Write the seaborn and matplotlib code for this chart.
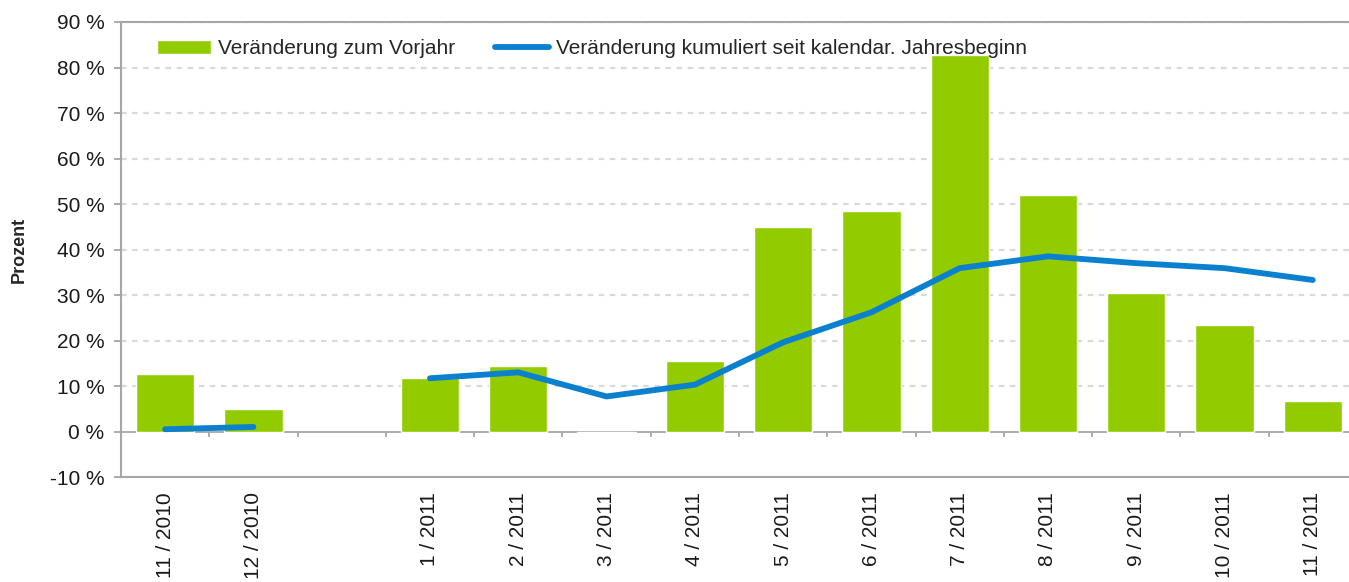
import numpy as np
import pandas as pd
import matplotlib
matplotlib.use("Agg")
import matplotlib.pyplot as plt
import seaborn as sns

# ── Data ──────────────────────────────────────────────────────
months = ["11 / 2010", "12 / 2010", "", "1 / 2011", "2 / 2011", "3 / 2011",
          "4 / 2011", "5 / 2011", "6 / 2011", "7 / 2011", "8 / 2011",
          "9 / 2011", "10 / 2011", "11 / 2011"]
yoy_change = [12.6, 4.9, np.nan, 11.7, 14.3, -0.4, 15.4, 44.9, 48.5, 82.8,
              52.0, 30.4, 23.3, 6.6]
cum_change = [0.5, 1.0, np.nan, 11.7, 13.0, 7.7, 10.3, 19.6, 26.2, 35.9,
              38.5, 37.0, 35.9, 33.3]
y_ticks = [-10, 0, 10, 20, 30, 40, 50, 60, 70, 80, 90]
y_ticklabels = ["-10 %", "0 %", "10 %", "20 %", "30 %", "40 %", "50 %",
                "60 %", "70 %", "80 %", "90 %"]

label_bar = "Veränderung zum Vorjahr"
label_line = "Veränderung kumuliert seit kalendar. Jahresbeginn"

df = pd.DataFrame({"month": months, "yoy": yoy_change, "cum": cum_change})

# ── Style ─────────────────────────────────────────────────────
sns.set_theme(style="white")
plt.rcParams["font.family"] = ["Liberation Sans", "DejaVu Sans"]

GREEN = "#92CC00"
BLUE = "#0A80CF"
AXIS_GRAY = "#A6A6A6"
GRID_GRAY = "#D9D9D9"

fig = plt.figure(figsize=(13.49, 5.82), dpi=100)
ax = fig.add_axes([0.0897, 0.1804, 0.9162, 0.7818])

sns.barplot(data=df, x="month", y="yoy", order=months, color=GREEN,
            saturation=1, width=0.66, label=label_bar, ax=ax, zorder=2)
ax.plot(np.arange(len(months)), df["cum"], color=BLUE, lw=4.2,
        solid_capstyle="round", label=label_line, zorder=3)

# axes & grid
ax.set_xlim(-0.5, len(months) - 0.5)
ax.set_ylim(-10, 90)
ax.set_yticks(y_ticks)
ax.set_yticklabels(y_ticklabels, fontsize=15, color="#1a1a1a")
for y in y_ticks[2:]:
    ax.axhline(y, color=GRID_GRAY, lw=1.6, ls=(0, (2.5, 2.5)), zorder=0)
ax.axhline(0, color=AXIS_GRAY, lw=1.3, zorder=1.5)
ax.vlines(np.arange(len(months) - 1) + 0.5, -1.3, 0, color=AXIS_GRAY,
          lw=1.3, zorder=1)

ax.set_xticks(np.arange(len(months)))
ax.set_xticklabels(months, rotation=90, fontsize=15, color="#1a1a1a")
ax.tick_params(axis="x", length=0, pad=11)
ax.tick_params(axis="y", length=5, width=1.3, color=AXIS_GRAY, pad=7,
               left=True)
for s in ax.spines.values():
    s.set_color(AXIS_GRAY)
    s.set_linewidth(1.5)

ax.set_xlabel("")
ax.set_ylabel("Prozent", fontsize=13, fontweight="bold", labelpad=16)

# legend: bars first, then line
handles, labels = ax.get_legend_handles_labels()
order = [labels.index(label_bar), labels.index(label_line)]
ax.legend([handles[i] for i in order], [labels[i] for i in order],
          loc="upper left", bbox_to_anchor=(0.029, 0.962), ncol=2,
          frameon=False, fontsize=15, handlelength=2.6, handletextpad=0.35,
          columnspacing=1.9, borderpad=0, borderaxespad=0)

plt.savefig("out.png", dpi=100)
